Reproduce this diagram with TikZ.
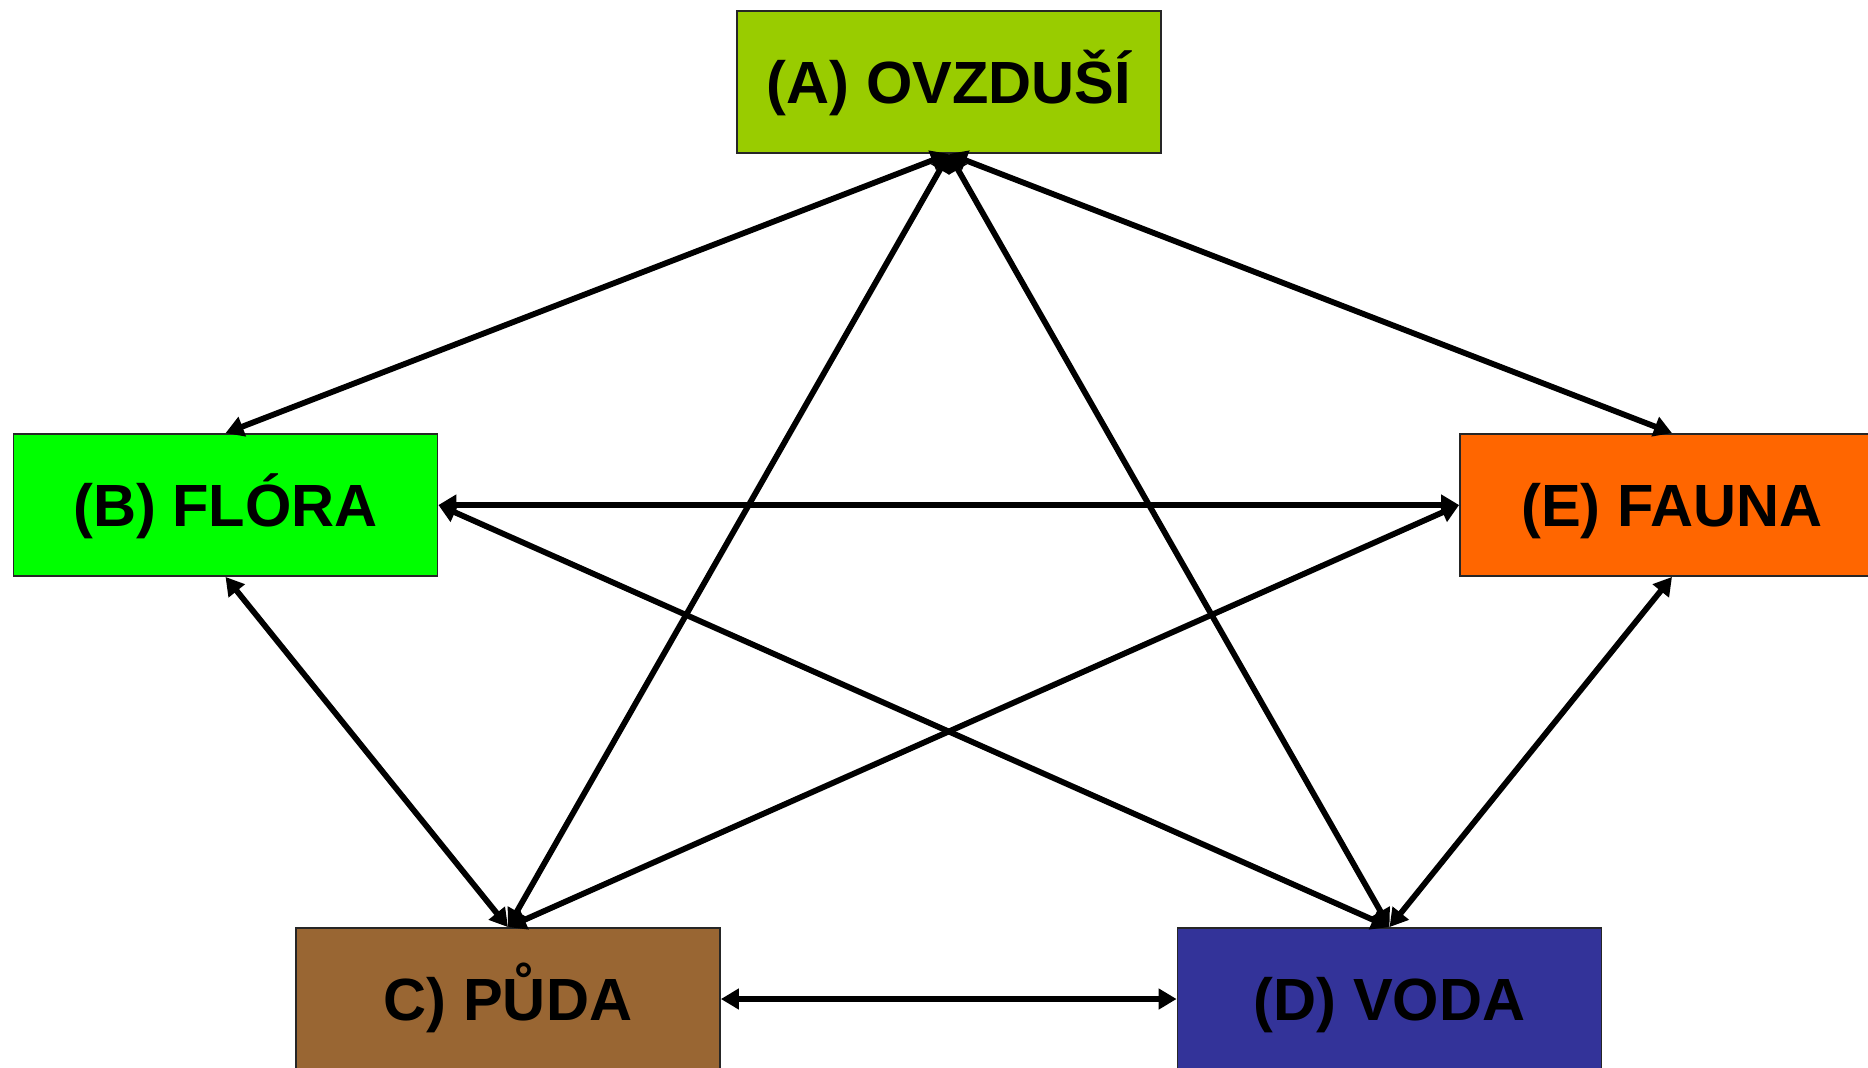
\documentclass[tikz,border=0pt]{standalone}
\usepackage{fontspec}
\setmainfont{Liberation Sans}
\usetikzlibrary{arrows.meta}

\definecolor{airgreen}{HTML}{99CC00}
\definecolor{floragreen}{HTML}{00FF00}
\definecolor{faunaorange}{HTML}{FF6600}
\definecolor{soilbrown}{HTML}{996633}
\definecolor{waterblue}{HTML}{333399}

\tikzset{
  sphere/.style={draw=black!85, line width=0.9pt, rectangle,
    minimum width=212pt, minimum height=71pt, inner sep=0pt,
    text height=21.3pt, text depth=0pt,
    font=\fontsize{29.8pt}{36pt}\selectfont\bfseries, text=black},
  link/.style={line width=2.9pt, black,
    {Triangle[length=9pt,width=10pt]}-{Triangle[length=9pt,width=10pt]}}
}

\begin{document}
\begin{tikzpicture}[x=0.5pt, y=-0.5pt]
  \clip (0,0) rectangle (1868,1067);
  \fill[white] (0,0) rectangle (1868,1067);

  % the five spheres
  \node[sphere, fill=airgreen]    (A) at (949,82)    {(A) OVZDUŠÍ};
  \node[sphere, fill=floragreen]  (B) at (225.5,505) {(B) FLÓRA};
  \node[sphere, fill=faunaorange] (E) at (1672,505)  {(E) FAUNA};
  \node[sphere, fill=soilbrown]   (C) at (508,999)   {C) PŮDA};
  \node[sphere, fill=waterblue]   (D) at (1389.5,999) {(D) VODA};

  % mutual interactions
  \draw[link] (A.south) -- (B.north);
  \draw[link] (A.south) -- (E.north);
  \draw[link] (A.south) -- (C.north);
  \draw[link] (A.south) -- (D.north);
  \draw[link] (B.east) -- (E.west);
  \draw[link] (B.east) -- (D.north);
  \draw[link] (E.west) -- (C.north);
  \draw[link] (B.south) -- (C.north);
  \draw[link] (E.south) -- (D.north);
  \draw[link] (C.east) -- (D.west);
\end{tikzpicture}
\end{document}
